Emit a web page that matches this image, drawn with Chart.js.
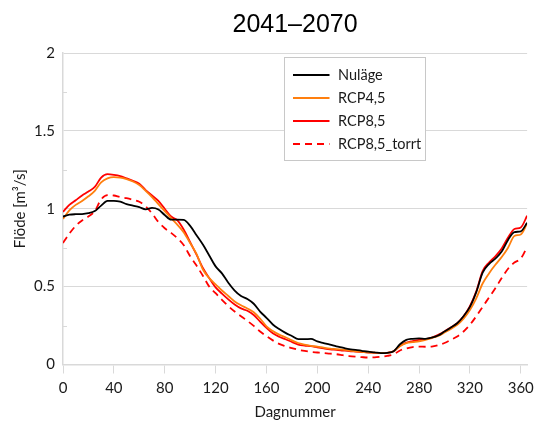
<!DOCTYPE html>
<html>
<head>
<meta charset="utf-8">
<script src="https://cdn.jsdelivr.net/npm/chart.js@4"></script>
<style>
    html, body { margin: 0; padding: 0; background: #ffffff; }
    #wrap { width: 540px; height: 423px; }
</style>
</head>
<body>
<div id="wrap"><canvas id="flow-chart" width="540" height="423"></canvas></div>
<script>
// Day numbers (every 5th day) and mean flow per scenario
const days = [0, 5, 10, 15, 20, 25, 30, 35, 40, 45, 50, 55, 60, 65, 70, 75, 80, 85, 90, 95,
    100, 105, 110, 115, 120, 125, 130, 135, 140, 145, 150, 155, 160, 165, 170, 175, 180, 185, 190, 195,
    200, 205, 210, 215, 220, 225, 230, 235, 240, 245, 250, 255, 260, 265, 270, 275, 280, 285, 290, 295,
    300, 305, 310, 315, 320, 325, 330, 335, 340, 345, 350, 355, 360, 365];

const nulage = [0.95, 0.962, 0.965, 0.966, 0.972, 0.985, 1.02, 1.05, 1.05, 1.045, 1.03, 1.02, 1.01, 0.996, 1.005, 0.995, 0.96, 0.93, 0.93, 0.928,
    0.89, 0.83, 0.77, 0.70, 0.63, 0.585, 0.525, 0.475, 0.44, 0.42, 0.39, 0.34, 0.30, 0.257, 0.228, 0.203, 0.183, 0.163, 0.163, 0.164,
    0.148, 0.138, 0.128, 0.117, 0.108, 0.098, 0.094, 0.088, 0.082, 0.078, 0.073, 0.075, 0.085, 0.13, 0.158, 0.165, 0.168, 0.165, 0.172, 0.186,
    0.212, 0.238, 0.265, 0.31, 0.37, 0.465, 0.59, 0.645, 0.68, 0.725, 0.80, 0.85, 0.855, 0.91];

const rcp45 = [0.935, 0.99, 1.025, 1.05, 1.08, 1.115, 1.17, 1.195, 1.203, 1.2, 1.19, 1.175, 1.152, 1.115, 1.075, 1.03, 0.985, 0.94, 0.897, 0.848,
    0.78, 0.71, 0.61, 0.555, 0.515, 0.475, 0.44, 0.405, 0.38, 0.36, 0.335, 0.295, 0.245, 0.215, 0.192, 0.175, 0.155, 0.138, 0.128, 0.12,
    0.115, 0.108, 0.102, 0.099, 0.095, 0.09, 0.085, 0.082, 0.078, 0.076, 0.074, 0.075, 0.085, 0.118, 0.137, 0.143, 0.148, 0.158, 0.17, 0.183,
    0.205, 0.228, 0.255, 0.295, 0.35, 0.425, 0.52, 0.585, 0.64, 0.69, 0.75, 0.825, 0.835, 0.905];

const rcp85 = [0.98, 1.025, 1.055, 1.085, 1.11, 1.14, 1.2, 1.222, 1.218, 1.21, 1.195, 1.18, 1.16, 1.12, 1.085, 1.05, 1.0, 0.95, 0.925, 0.865,
    0.785, 0.705, 0.62, 0.555, 0.495, 0.455, 0.418, 0.385, 0.36, 0.345, 0.318, 0.275, 0.235, 0.2, 0.178, 0.162, 0.145, 0.128, 0.122, 0.118,
    0.11, 0.103, 0.097, 0.094, 0.09, 0.086, 0.083, 0.08, 0.077, 0.075, 0.073, 0.075, 0.085, 0.12, 0.14, 0.15, 0.158, 0.163, 0.172, 0.19,
    0.212, 0.238, 0.265, 0.31, 0.375, 0.47, 0.6, 0.655, 0.695, 0.745, 0.815, 0.87, 0.88, 0.955];

const rcp85torrt = [0.78, 0.84, 0.89, 0.925, 0.95, 0.985, 1.06, 1.088, 1.085, 1.075, 1.068, 1.058, 1.045, 1.015, 0.97, 0.915, 0.875, 0.845, 0.81, 0.765,
    0.695, 0.635, 0.57, 0.5, 0.458, 0.415, 0.375, 0.34, 0.31, 0.28, 0.248, 0.212, 0.182, 0.155, 0.132, 0.118, 0.105, 0.095, 0.087, 0.081,
    0.077, 0.073, 0.07, 0.066, 0.06, 0.054, 0.05, 0.047, 0.045, 0.046, 0.05, 0.055, 0.065, 0.09, 0.103, 0.112, 0.115, 0.114, 0.115, 0.124,
    0.138, 0.158, 0.18, 0.212, 0.255, 0.31, 0.37, 0.43, 0.49, 0.555, 0.615, 0.655, 0.68, 0.755];

const seriesNames = ['Nuläge', 'RCP4,5', 'RCP8,5', 'RCP8,5_torrt'];
const xTicks = [0, 40, 80, 120, 160, 200, 240, 280, 320, 360];
const yTicks = [0, 0.25, 0.5, 0.75, 1, 1.25, 1.5, 1.75, 2];
const yLabelled = [0, 0.5, 1, 1.5, 2];

const gridGrey = '#d9d9d9';
const textColor = '#1a1a1a';

function toPoints(values) {
    return days.map((d, i) => ({ x: d, y: values[i] }));
}

function makeDataset(label, values, color, dash) {
    return {
        label: label,
        data: toPoints(values),
        borderColor: color,
        backgroundColor: color,
        borderWidth: 1.8,
        borderDash: dash,
        pointRadius: 0,
        cubicInterpolationMode: 'monotone',
        fill: false
    };
}

// Short tick marks inside the plot for the unlabelled y values
const minorTicks = {
    id: 'minorTicks',
    afterDatasetsDraw(chart) {
        const ctx = chart.ctx;
        const y = chart.scales.y;
        const left = chart.chartArea.left;
        ctx.save();
        ctx.strokeStyle = gridGrey;
        ctx.lineWidth = 1;
        yTicks.forEach(v => {
            if (yLabelled.includes(v)) return;
            const py = Math.round(y.getPixelForValue(v)) + 0.5;
            ctx.beginPath();
            ctx.moveTo(left, py);
            ctx.lineTo(left + 4, py);
            ctx.stroke();
        });
        ctx.restore();
    }
};

// Boxed legend drawn inside the plot area
const boxLegend = {
    id: 'boxLegend',
    afterDraw(chart) {
        const ctx = chart.ctx;
        const area = chart.chartArea;
        const bx = area.left + 221.5;
        const by = area.top + 4.5;
        const bw = 141;
        const bh = 103;
        ctx.save();
        ctx.fillStyle = '#ffffff';
        ctx.fillRect(bx, by, bw, bh);
        ctx.strokeStyle = '#c8c8c8';
        ctx.lineWidth = 1;
        ctx.strokeRect(bx, by, bw, bh);
        ctx.font = '14.5px Lato';
        ctx.textBaseline = 'middle';
        ctx.fillStyle = textColor;
        chart.data.datasets.forEach((ds, i) => {
            const rowY = by + 17.5 + i * 23;
            ctx.beginPath();
            ctx.strokeStyle = ds.borderColor;
            ctx.lineWidth = ds.borderWidth;
            ctx.setLineDash(ds.borderDash || []);
            ctx.moveTo(bx + 8.5, rowY);
            ctx.lineTo(bx + 45, rowY);
            ctx.stroke();
            ctx.setLineDash([]);
            ctx.fillText(ds.label, bx + 53.5, rowY);
        });
        ctx.restore();
    }
};

function createFlowChart() {
    const ctx = document.getElementById('flow-chart').getContext('2d');

    const chart = new Chart(ctx, {
        type: 'line',
        data: {
            datasets: [
                makeDataset(seriesNames[0], nulage, '#000000', []),
                makeDataset(seriesNames[1], rcp45, '#ff7f0e', []),
                makeDataset(seriesNames[2], rcp85, '#ff0000', []),
                makeDataset(seriesNames[3], rcp85torrt, '#ff0000', [7, 5])
            ]
        },
        options: {
            responsive: false,
            animation: false,
            layout: {
                padding: { left: 0, right: 9, top: 0, bottom: 0 }
            },
            plugins: {
                legend: { display: false },
                tooltip: { enabled: false },
                title: {
                    display: true,
                    text: '2041–2070',
                    color: '#000000',
                    fullSize: false,
                    font: { family: 'Liberation Sans', size: 25, weight: 'normal' },
                    padding: { top: 10, bottom: 13 }
                }
            },
            scales: {
                x: {
                    type: 'linear',
                    min: 0,
                    max: 365,
                    afterBuildTicks: scale => {
                        scale.ticks = xTicks.map(v => ({ value: v }));
                    },
                    afterFit: scale => {
                        scale.height = 58.5;
                    },
                    border: { color: gridGrey, width: 1.5 },
                    grid: {
                        drawOnChartArea: false,
                        drawTicks: true,
                        tickLength: 9,
                        color: gridGrey
                    },
                    ticks: {
                        color: textColor,
                        padding: 6,
                        maxRotation: 0,
                        font: { family: 'Lato', size: 15 }
                    },
                    title: {
                        display: true,
                        text: 'Dagnummer',
                        color: textColor,
                        font: { family: 'Lato', size: 15 },
                        padding: { top: 0, bottom: 2 }
                    }
                },
                y: {
                    min: 0,
                    max: 2,
                    afterBuildTicks: scale => {
                        scale.ticks = yTicks.map(v => ({ value: v }));
                    },
                    afterFit: scale => {
                        scale.width = 63;
                    },
                    border: { color: gridGrey, width: 1.5 },
                    grid: {
                        drawTicks: false,
                        color: c => yLabelled.includes(c.tick.value) ? gridGrey : 'rgba(0,0,0,0)'
                    },
                    ticks: {
                        color: textColor,
                        padding: 8,
                        font: { family: 'Lato', size: 15 },
                        callback: value => yLabelled.includes(value) ? String(value) : ''
                    },
                    title: {
                        display: true,
                        text: 'Flöde [m³/s]',
                        color: textColor,
                        font: { family: 'Lato', size: 15 },
                        padding: { top: 11, bottom: 0 }
                    }
                }
            }
        },
        plugins: [minorTicks, boxLegend]
    });

    return chart;
}

document.addEventListener('DOMContentLoaded', () => {
    createFlowChart();
});
</script>
</body>
</html>
